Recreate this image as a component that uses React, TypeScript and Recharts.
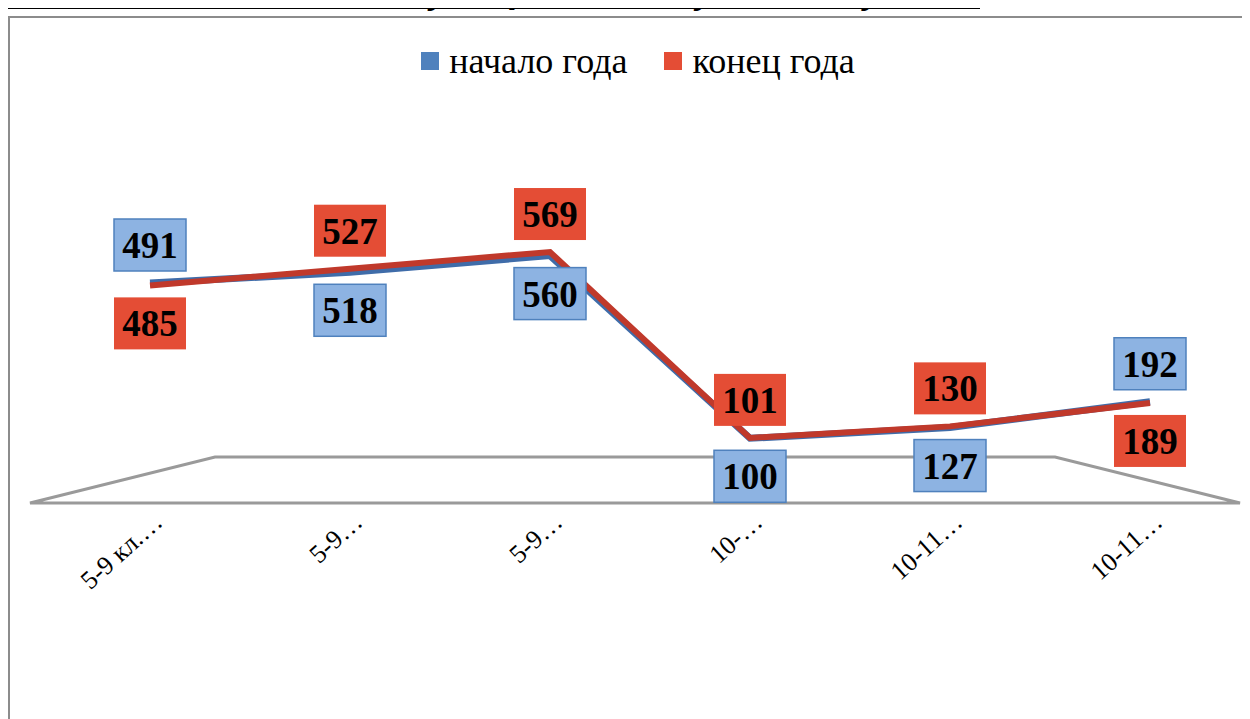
import { LineChart, Line, XAxis, YAxis, Legend, LabelList } from 'recharts';

const categories = ['5-9 кл.…', '5-9…', '5-9…', '10-…', '10-11…', '10-11…'];
const seriesNames = ['начало года', 'конец года'];
const startOfYear = [491, 518, 560, 100, 127, 192];
const endOfYear = [485, 527, 569, 101, 130, 189];

const data = categories.map((name, i) => ({
  name,
  start: startOfYear[i],
  end: endOfYear[i],
}));

const SERIF = '"Liberation Serif", "Times New Roman", serif';

function makeLabel(own: number[], other: number[], fill: string, border: string) {
  return (props: any) => {
    const { x, y, value, index } = props;
    const w = 72;
    const h = 52;
    const above = own[index] >= other[index];
    const top = above ? y - h - 12 : y + 12;
    return (
      <g>
        <rect
          x={x - w / 2}
          y={top}
          width={w}
          height={h}
          fill={fill}
          stroke={border}
          strokeWidth={border === 'none' ? 0 : 1.5}
        />
        <text
          x={x}
          y={top + h / 2 + 13}
          textAnchor="middle"
          fontFamily={SERIF}
          fontWeight="bold"
          fontSize={37}
          fill="#000"
        >
          {value}
        </text>
      </g>
    );
  };
}

function Tick(props: any) {
  const { x, y, payload } = props;
  const tx = x + 14;
  const ty = y + 38;
  return (
    <text
      x={tx}
      y={ty}
      textAnchor="end"
      fontFamily={SERIF}
      fontSize={26}
      fill="#000"
      transform={`rotate(-42, ${tx}, ${ty})`}
    >
      {payload.value}
    </text>
  );
}

function LegendContent(props: any) {
  const items = [...(props.payload || [])].sort(
    (a: any, b: any) => seriesNames.indexOf(a.value) - seriesNames.indexOf(b.value)
  );
  return (
    <div
      style={{
        display: 'flex',
        justifyContent: 'center',
        gap: 37,
        fontFamily: SERIF,
        fontSize: 36,
        color: '#000',
        marginLeft: 16,
      }}
    >
      {items.map((it: any) => (
        <div key={it.value} style={{ display: 'flex', alignItems: 'center' }}>
          <span
            style={{
              display: 'inline-block',
              width: 18,
              height: 18,
              background: it.value === seriesNames[0] ? '#4F81BD' : '#E44D35',
              marginRight: 10,
            }}
          />
          <span>{it.value}</span>
        </div>
      ))}
    </div>
  );
}

export default function App() {
  return (
    <div style={{ position: 'relative', width: 1242, height: 711 }}>
      <div
        style={{
          position: 'absolute',
          left: 0,
          top: -32,
          fontFamily: SERIF,
          fontWeight: 'bold',
          fontStyle: 'italic',
          fontSize: 37.8,
          lineHeight: '29px',
          borderBottom: '4px solid #000',
          whiteSpace: 'nowrap',
        }}
      >
        Изменение численности учащихся по ступеням обучения
      </div>
      <div
        style={{
          position: 'absolute',
          left: 0,
          top: 8,
          width: 1240,
          height: 701,
          borderTop: '2px solid #8c8c8c',
          borderLeft: '2px solid #8c8c8c',
          background: '#fff',
        }}
      >
        <svg
          width={1240}
          height={701}
          style={{ position: 'absolute', left: 0, top: 0 }}
        >
          <polygon
            points="20,485 205,439 1045,439 1230,485"
            fill="#fff"
            stroke="#9a9a9a"
            strokeWidth={3}
          />
        </svg>
        <div style={{ position: 'absolute', left: 0, top: 0 }}>
          <LineChart
            width={1240}
            height={701}
            data={data}
            margin={{ top: 140, right: 0, left: 40, bottom: 181 }}
          >
            <XAxis
              dataKey="name"
              axisLine={false}
              tickLine={false}
              height={60}
              interval={0}
              padding={{ left: 100, right: 100 }}
              tick={<Tick />}
            />
            <YAxis hide domain={[0, 700]} />
            <Legend
              verticalAlign="top"
              wrapperStyle={{ top: 22, left: 0, width: 1240 }}
              content={<LegendContent />}
            />
            <Line
              name={seriesNames[0]}
              dataKey="start"
              stroke="#3F6CA9"
              strokeWidth={7}
              dot={false}
              isAnimationActive={false}
              legendType="square"
            >
              <LabelList
                dataKey="start"
                content={makeLabel(startOfYear, endOfYear, '#8DB3E2', '#4F81BD')}
              />
            </Line>
            <Line
              name={seriesNames[1]}
              dataKey="end"
              stroke="#C0392B"
              strokeWidth={6}
              dot={false}
              isAnimationActive={false}
              legendType="square"
            >
              <LabelList
                dataKey="end"
                content={makeLabel(endOfYear, startOfYear, '#E44D35', 'none')}
              />
            </Line>
          </LineChart>
        </div>
      </div>
    </div>
  );
}
